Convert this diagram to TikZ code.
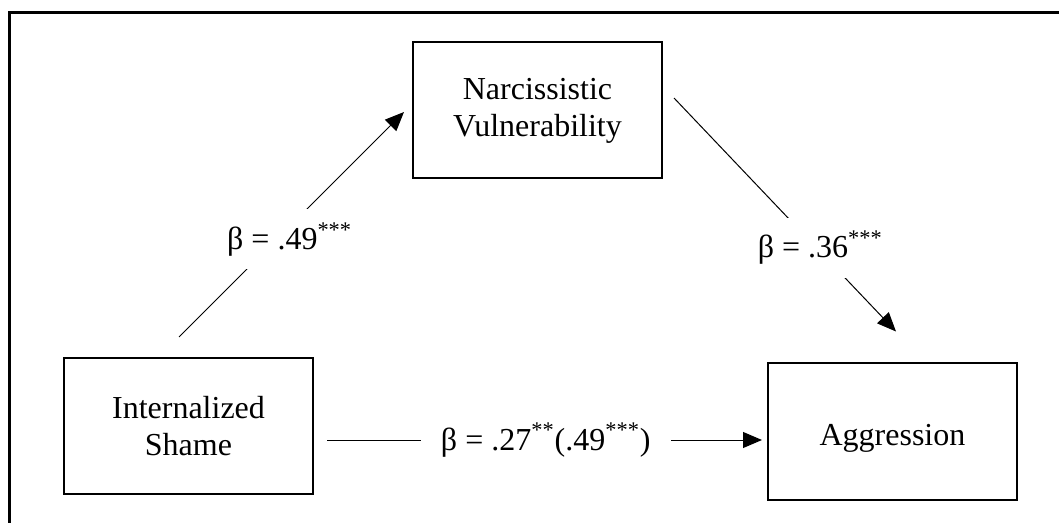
\documentclass[tikz,border=0pt]{standalone}
\usepackage{fontspec}
\setmainfont{Liberation Serif}
\usetikzlibrary{positioning, arrows.meta}

\begin{document}
\begin{tikzpicture}[x=0.5pt, y=-0.5pt,
    box/.style={rectangle, draw=black, line width=1pt, minimum width=124.5pt, minimum height=68pt, align=center, font=\fontsize{16}{18.5}\selectfont},
    coef/.style={fill=white, inner xsep=10pt, inner ysep=0pt, minimum height=30pt, font=\fontsize{16}{18.5}\selectfont},
    link/.style={line width=0.5pt, -{Triangle[length=9.5pt, width=8pt]}}]
    \useasboundingbox (0,0) rectangle (1059,523);
    \draw[line width=1.5pt] (9.5,545) -- (9.5,13) -- (1080,13);

    \node[box] (narc) at (537.5,110.5) {Narcissistic\\Vulnerability};
    \node[box] (shame) at (188.5,426) {Internalized\\Shame};
    \node[box, text height=18pt, text depth=4pt] (aggr) at (892.5,431.5) {Aggression};

    \coordinate (shame-up) at ([shift={(-9.5,-20)}]shame.north);
    \coordinate (narc-in) at ([shift={(-8,1.5)}]narc.west);
    \coordinate (narc-out) at ([shift={(11,-12.5)}]narc.east);
    \coordinate (aggr-top) at ([shift={(3.5,-31)}]aggr.north);
    \coordinate (shame-out) at ([shift={(13,14)}]shame.east);
    \coordinate (aggr-in) at ([shift={(-5,8.5)}]aggr.west);

    \draw[link] (shame-up) -- node[coef, pos=0.434, xshift=6.5pt] {β = .49\textsuperscript{***}} (narc-in);
    \draw[link] (narc-out) -- node[coef, pos=0.641, xshift=2pt] {β = .36\textsuperscript{***}} (aggr-top);
    \draw[link] (shame-out) -- node[coef, pos=0.503] {β = .27\textsuperscript{**}(.49\textsuperscript{***})} (aggr-in);
\end{tikzpicture}
\end{document}
